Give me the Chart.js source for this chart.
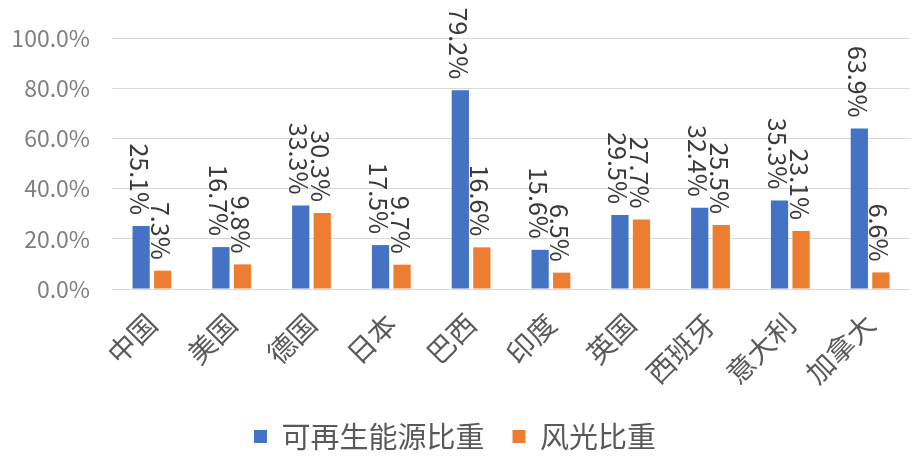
<!DOCTYPE html>
<html>
<head>
<meta charset="utf-8">
<script src="https://cdn.jsdelivr.net/npm/chart.js@4"></script>
<style>
  body { margin: 0; background: #fff; }
</style>
</head>
<body>
<canvas id="chart" width="924" height="467"></canvas>
<script>
const countries = ['中国', '美国', '德国', '日本', '巴西', '印度', '英国', '西班牙', '意大利', '加拿大'];
const renewableShare = [25.1, 16.7, 33.3, 17.5, 79.2, 15.6, 29.5, 32.4, 35.3, 63.9];
const windSolarShare = [7.3, 9.8, 30.3, 9.7, 16.6, 6.5, 27.7, 25.5, 23.1, 6.6];
const seriesNames = ['可再生能源比重', '风光比重'];

const fontFamily = '"Noto Sans CJK SC", "Noto Sans", sans-serif';

// draws the vertical value labels above each bar
const valueLabels = {
  id: 'valueLabels',
  afterDatasetsDraw(chart) {
    const ctx = chart.ctx;
    ctx.save();
    ctx.font = '25px ' + fontFamily;
    ctx.fillStyle = '#3a3a3a';
    ctx.textAlign = 'right';
    ctx.textBaseline = 'middle';
    chart.data.datasets.forEach((ds, i) => {
      const meta = chart.getDatasetMeta(i);
      meta.data.forEach((bar, j) => {
        ctx.save();
        ctx.translate(bar.x - 2, bar.y - 11);
        ctx.rotate(Math.PI / 2);
        ctx.fillText(ds.data[j].toFixed(1) + '%', 0, 0);
        ctx.restore();
      });
    });
    ctx.restore();
  }
};

const ctx = document.getElementById('chart').getContext('2d');
new Chart(ctx, {
  type: 'bar',
  data: {
    labels: countries,
    datasets: [
      {
        label: seriesNames[0],
        data: renewableShare,
        backgroundColor: '#4472C4',
      },
      {
        label: seriesNames[1],
        data: windSolarShare,
        backgroundColor: '#ED7D31',
      },
    ],
  },
  options: {
    responsive: false,
    animation: false,
    categoryPercentage: 0.54,
    barPercentage: 0.8,
    layout: {
      padding: { top: 38, right: 14, left: 0, bottom: 6 },
    },
    plugins: {
      legend: {
        position: 'bottom',
        labels: {
          boxWidth: 13,
          boxHeight: 13,
          padding: 28,
          color: '#595959',
          font: { family: fontFamily, size: 29 },
        },
      },
      tooltip: { enabled: false },
    },
    scales: {
      x: {
        grid: { display: false },
        border: { display: false },
        ticks: {
          color: '#595959',
          font: { family: fontFamily, size: 28 },
          minRotation: 45,
          maxRotation: 45,
          padding: 10,
        },
        afterFit(scale) {
          scale.height = 105;
        },
      },
      y: {
        min: 0,
        max: 100,
        grid: { color: '#d9d9d9', drawTicks: false },
        border: { display: false },
        ticks: {
          stepSize: 20,
          color: '#7f7f7f',
          padding: 22,
          font: { family: fontFamily, size: 23 },
          callback: (v) => v.toFixed(1) + '%',
        },
        afterFit(scale) {
          scale.width = 112;
        },
      },
    },
  },
  plugins: [valueLabels],
});
</script>
</body>
</html>
